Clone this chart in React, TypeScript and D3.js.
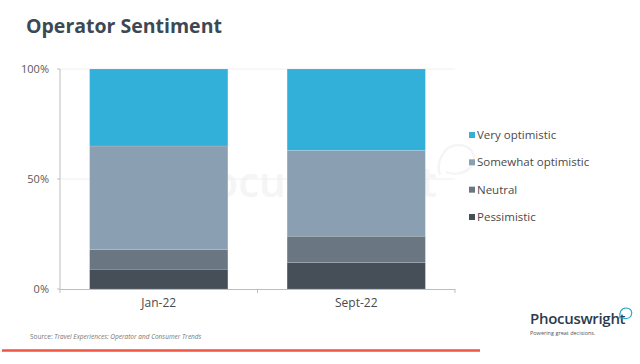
import * as d3 from 'd3';

const categories = ['Jan-22', 'Sept-22'];
const seriesNames = ['Pessimistic', 'Neutral', 'Somewhat optimistic', 'Very optimistic'];
const pessimistic = [9, 12];
const neutral = [9, 12];
const somewhatOptimistic = [47, 39];
const veryOptimistic = [35, 37];
const yTicks = [0, 50, 100];
const colours = ['#464f58', '#6a7782', '#8b9fb2', '#33b0d9'];

const W = 640;
const H = 364;
const font = '"Open Sans", sans-serif';

export default function App() {
  const x = d3.scaleBand<string>()
    .domain(categories)
    .range([60, 455])
    .paddingInner(0.3)
    .paddingOuter(0.15);

  const y = d3.scaleLinear().domain([0, 100]).range([289, 69]);

  const rows = categories.map((c, i) => ({
    cat: c,
    'Pessimistic': pessimistic[i],
    'Neutral': neutral[i],
    'Somewhat optimistic': somewhatOptimistic[i],
    'Very optimistic': veryOptimistic[i],
  }));
  const stacked = d3.stack<any>().keys(seriesNames)(rows);

  const legendOrder = [...seriesNames].reverse();
  const legendY = d3.scalePoint<string>().domain(legendOrder).range([135, 217]);

  return (
    <div style={{ position: 'absolute', left: 0, top: 0 }}>
      <svg width={W} height={H} style={{ display: 'block', background: '#fff' }}>
        <text x={26} y={33} fontFamily={font} fontWeight={700} fontSize={19.5} fill="#3c4854">
          Operator Sentiment
        </text>

        {/* faint watermark */}
        <text x={160} y={197} fontFamily={font} fontWeight={600} fontSize={42} fill="#f5f5f5">
          Phocuswright
        </text>
        <path d="M440,175 C436,165 442,145 458,145 C474,145 478,160 470,168 C464,174 452,175 446,172" fill="none" stroke="#f5f5f5" strokeWidth={2.5} />

        {yTicks.map(t => (
          <g key={t}>
            {t > 0 && <line x1={60} x2={455} y1={y(t)} y2={y(t)} stroke="#f0f0f0" />}
            <line x1={57} x2={60} y1={y(t)} y2={y(t)} stroke="#bdbdbd" />
            <text x={49} y={y(t)} dy="0.35em" textAnchor="end" fontFamily={font} fontSize={11} fill="#595959">
              {t}%
            </text>
          </g>
        ))}

        {stacked.map((s, si) => (
          <g key={s.key} fill={colours[si]}>
            {s.map((d, i) => (
              <rect
                key={i}
                x={x(categories[i])}
                width={x.bandwidth()}
                y={y(d[1])}
                height={y(d[0]) - y(d[1])}
                stroke="#ffffff"
                strokeOpacity={0.25}
                strokeWidth={0.5}
              />
            ))}
          </g>
        ))}

        <line x1={60} x2={60} y1={69} y2={289} stroke="#bdbdbd" />
        <line x1={60} x2={455} y1={289.5} y2={289.5} stroke="#bdbdbd" />
        {[60, 60 + x.step(), 455].map((tx, i) => (
          <line key={i} x1={tx} x2={tx} y1={289} y2={293} stroke="#bdbdbd" />
        ))}
        {categories.map(c => (
          <text key={c} x={(x(c) ?? 0) + x.bandwidth() / 2} y={307} textAnchor="middle" fontFamily={font} fontSize={12} fill="#4a4a4a">
            {c}
          </text>
        ))}

        {legendOrder.map(name => (
          <g key={name} transform={`translate(469,${legendY(name)})`}>
            <rect x={0} y={-3} width={6} height={6} fill={colours[seriesNames.indexOf(name)]} />
            <text x={8} dy="0.35em" fontFamily={font} fontSize={11.5} fill="#4a4a4a">{name}</text>
          </g>
        ))}

        <text x={30} y={339} fontFamily={font} fontSize={6.5} fill="#777">
          Source: <tspan fontStyle="italic">Travel Experiences: Operator and Consumer Trends</tspan>
        </text>

        <text x={530} y={324} fontFamily={font} fontWeight={600} fontSize={15} fill="#2c3a4b" letterSpacing={-0.3}>
          Phocuswright
        </text>
        <path d="M620,318 C619,313 621,308 626,308 C631,308 633,312 631,316 C629,319 625,319 623,318 Z" fill="none" stroke="#2aa8c6" strokeWidth={1.2} />
        <text x={530} y={335} fontFamily={font} fontSize={5.5} fill="#555">
          Powering great decisions.
        </text>

        <line x1={2} x2={480} y1={350.5} y2={350.5} stroke="#ef5440" strokeWidth={2.5} />
      </svg>
    </div>
  );
}
